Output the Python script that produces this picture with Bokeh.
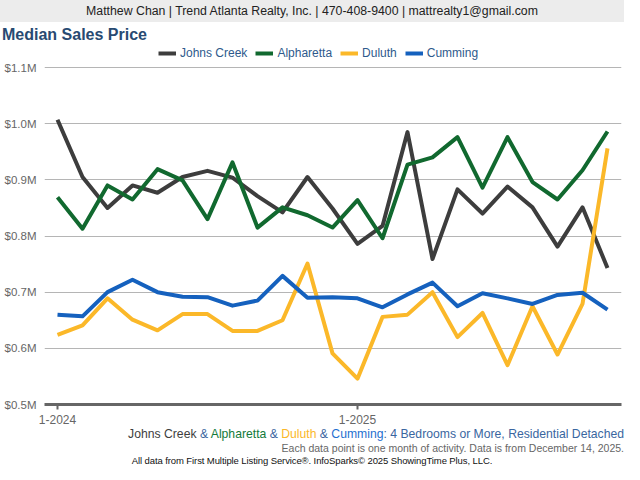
from bokeh.plotting import figure
from bokeh.models import (ColumnDataSource, Range1d, FixedTicker, PrintfTickFormatter,
                          Legend, LegendItem, Div)
from bokeh.layouts import column
from bokeh.embed import file_html
from bokeh.resources import INLINE

# ---------------- data ----------------
months = list(range(23))  # Jan 2024 .. Nov 2025
tick_positions = [0, 12]
tick_labels = ["1-2024", "1-2025"]

johns_creek = [1.007, 0.905, 0.850, 0.890, 0.877, 0.905, 0.916, 0.904, 0.871, 0.842, 0.905, 0.849,
               0.786, 0.818, 0.985, 0.759, 0.883, 0.840, 0.888, 0.851, 0.781, 0.851, 0.743]
alpharetta = [0.869, 0.813, 0.890, 0.865, 0.919, 0.899, 0.830, 0.931, 0.815, 0.851, 0.837, 0.815,
              0.864, 0.796, 0.927, 0.940, 0.976, 0.886, 0.976, 0.896, 0.865, 0.917, 0.986]
duluth = [0.624, 0.641, 0.689, 0.651, 0.632, 0.661, 0.661, 0.631, 0.631, 0.650, 0.751, 0.591,
          0.546, 0.656, 0.660, 0.700, 0.620, 0.663, 0.570, 0.675, 0.589, 0.679, 0.956]
cumming = [0.660, 0.657, 0.700, 0.722, 0.700, 0.692, 0.691, 0.676, 0.685, 0.729, 0.690, 0.691,
           0.689, 0.673, 0.696, 0.717, 0.675, 0.698, 0.689, 0.679, 0.695, 0.699, 0.669]

series_names = ["Johns Creek", "Alpharetta", "Duluth", "Cumming"]
series_values = [johns_creek, alpharetta, duluth, cumming]
series_colors = ["#3d3d3d", "#11692f", "#fbb829", "#1561be"]
y_ticks = [0.5, 0.6, 0.7, 0.8, 0.9, 1.0, 1.1]

FONT = "Liberation Sans, Arial, Helvetica, sans-serif"
W = 624

# ---------------- header ----------------
header = Div(
    text="Matthew Chan | Trend Atlanta Realty, Inc. | 470-408-9400 | mattrealty1@gmail.com",
    width=W, height=22, margin=0,
    styles={"background-color": "#ececec", "text-align": "center", "font-size": "12.3px",
            "line-height": "22px", "font-family": FONT, "color": "#222222", "width": f"{W}px"},
)

# ---------------- title ----------------
title = Div(
    text="Median Sales Price",
    width=W, height=22, margin=0,
    styles={"font-size": "16px", "font-weight": "bold", "line-height": "26px",
            "font-family": FONT, "color": "#284a72", "width": f"{W}px",
            "padding-left": "2px", "overflow": "hidden", "white-space": "nowrap"},
)

# ---------------- main figure ----------------
# frame top sits just under the title; gridlines stop at $1.1M, the legend lives in the strip above it
p = figure(width=W, height=383, output_backend="svg", toolbar_location=None,
           x_range=Range1d(-0.52, 22.56), y_range=Range1d(0.5, 1.14095),
           min_border_left=44, min_border_right=3, min_border_top=0, min_border_bottom=23)
p.outline_line_color = None
p.background_fill_color = "white"
p.border_fill_color = "white"

renderers = []
for name, vals, col in zip(series_names, series_values, series_colors):
    src = ColumnDataSource(dict(x=months, y=vals))
    r = p.line("x", "y", source=src, line_color=col, line_width=4, line_join="round")
    renderers.append((name, r))

# y axis
p.yaxis.ticker = FixedTicker(ticks=y_ticks)
p.yaxis.formatter = PrintfTickFormatter(format="$%.1fM")
p.yaxis.axis_line_color = None
p.yaxis.major_tick_line_color = None
p.yaxis.major_tick_out = 0
p.yaxis.major_tick_in = 0
p.yaxis.minor_tick_line_color = None
p.yaxis.minor_tick_out = 0
p.yaxis.major_label_text_font = FONT
p.yaxis.major_label_text_font_size = "11.5px"
p.yaxis.major_label_text_color = "#666666"
p.yaxis.major_label_standoff = 8

# x axis
p.xaxis.ticker = FixedTicker(ticks=tick_positions)
p.xaxis.major_label_overrides = {t: l for t, l in zip(tick_positions, tick_labels)}
p.xaxis.axis_line_color = "#666666"
p.xaxis.axis_line_width = 3
p.xaxis.major_tick_line_color = "#666666"
p.xaxis.major_tick_line_width = 2
p.xaxis.major_tick_out = 5
p.xaxis.major_tick_in = 0
p.xaxis.minor_tick_line_color = None
p.xaxis.major_label_text_font = FONT
p.xaxis.major_label_text_font_size = "12px"
p.xaxis.major_label_text_color = "#666666"
p.xaxis.major_label_standoff = 5

# grid
p.xgrid.grid_line_color = None
p.ygrid.grid_line_color = "#b5b5b5"
p.ygrid.grid_line_width = 1

# legend (inside the frame, in the strip above the $1.1M line)
legend = Legend(items=[LegendItem(label=n, renderers=[r]) for n, r in renderers],
                orientation="horizontal", location=(114, 344),
                border_line_color=None, background_fill_alpha=0,
                padding=0, margin=0, spacing=8, label_standoff=4,
                glyph_width=18, glyph_height=12, label_height=14, label_width=10,
                label_text_font=FONT, label_text_font_size="12px",
                label_text_color="#2e5a8c")
p.add_layout(legend)

# ---------------- footer ----------------
footer = Div(
    text=(
        f'<div style="width:{W}px;text-align:right;font-size:12.2px;line-height:14px;color:#3a66a0;white-space:nowrap;">'
        '<span style="color:#3d3d3d">Johns Creek</span> &amp; '
        '<span style="color:#127a3a">Alpharetta</span> &amp; '
        '<span style="color:#fbb829">Duluth</span> &amp; '
        '<span style="color:#1f6fcf">Cumming</span>: 4 Bedrooms or More, Residential Detached</div>'
        f'<div style="width:{W}px;text-align:right;font-size:10.5px;line-height:15px;color:#666666;white-space:nowrap;">'
        'Each data point is one month of activity. Data is from December 14, 2025.</div>'
        f'<div style="width:{W}px;text-align:center;font-size:9.5px;line-height:10px;color:#111111;white-space:nowrap;letter-spacing:-0.1px;">'
        'All data from First Multiple Listing Service&reg;. InfoSparks&copy; 2025 ShowingTime Plus, LLC.</div>'
    ),
    width=W, height=37, margin=0,
    styles={"font-family": FONT, "width": f"{W}px"},
)

layout = column(header, title, p, footer, spacing=0)

open("out.html", "w").write(file_html(layout, INLINE))
